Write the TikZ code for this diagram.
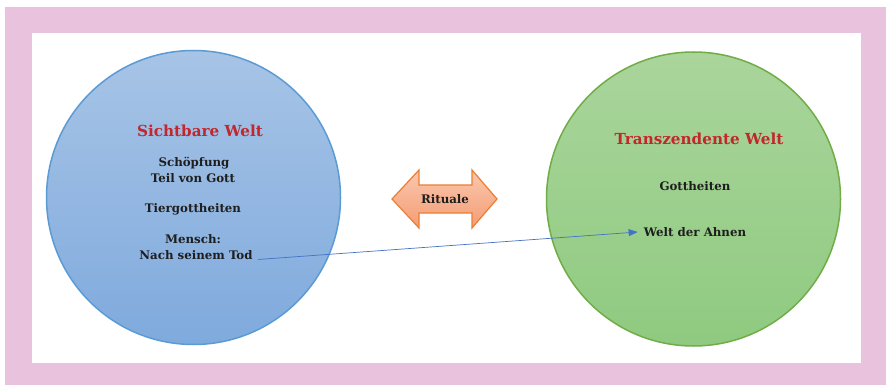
\documentclass[tikz,border=0pt]{standalone}
\usepackage{fontspec}
\setmainfont{DejaVu Serif}
\usetikzlibrary{arrows.meta}
\definecolor{frame}{HTML}{E9C3DD}
\definecolor{bluetop}{HTML}{A7C4E6}
\definecolor{bluebot}{HTML}{7FAADD}
\definecolor{blueline}{HTML}{5B9BD5}
\definecolor{greentop}{HTML}{AAD59C}
\definecolor{greenbot}{HTML}{8FCA80}
\definecolor{greenline}{HTML}{70AD47}
\definecolor{orangetop}{HTML}{FAC8AE}
\definecolor{orangebot}{HTML}{F49C74}
\definecolor{orangeline}{HTML}{ED7D31}
\definecolor{headred}{HTML}{C1272D}
\definecolor{bodytext}{HTML}{1E1E1E}
\definecolor{linkblue}{HTML}{4472C4}
\tikzset{
  heading/.style={font=\fontsize{15.2}{17}\selectfont\bfseries, text=headred, inner sep=0pt},
  item/.style={font=\fontsize{11.8}{14}\selectfont\bfseries, text=bodytext, inner sep=0pt, align=center},
  world/.style={circle, minimum size=294pt, inner sep=0pt, line width=1.5pt},
}
\begin{document}
\begin{tikzpicture}[x=1pt,y=-1pt]
  \useasboundingbox (0,0) rectangle (886,385);
  % outer pink frame with white inner panel
  \fill[white] (0,0) rectangle (886,385);
  \fill[frame] (5,7) rectangle (886,385);
  \fill[white] (32,33) rectangle (861,363);

  % the two worlds
  \node[world, draw=blueline, top color=bluetop, bottom color=bluebot] (left) at (193.5,197.5) {};
  \node[world, draw=greenline, top color=greentop, bottom color=greenbot] (right) at (693.5,199) {};

  % double arrow between the worlds
  \path[draw=orangeline, line width=1.2pt, top color=orangetop, bottom color=orangebot, line join=miter]
    (392,199) -- (419,170) -- (419,185) -- (472,185) -- (472,170) -- (497,199)
    -- (472,228) -- (472,213) -- (419,213) -- (419,228) -- cycle;
  \node[item] (rit) at (445,199) {Rituale};

  % left world texts
  \node[heading] (lh) at (200,131) {Sichtbare Welt};
  \node[item] (l1) at (194,163) {Schöpfung};
  \node[item] (l2) at (193,178) {Teil von Gott};
  \node[item] (l3) at (193,209) {Tiergottheiten};
  \node[item] (l4) at (193,239) {Mensch:};
  \node[item] (l5) at (196,255.5) {Nach seinem Tod};

  % right world texts
  \node[heading] (rh) at (699,139) {Transzendente Welt};
  \node[item] (r1) at (695,186) {Gottheiten};
  \node[item] (r2) at (695,232) {Welt der Ahnen};

  % link from the dead to the ancestors
  \draw[linkblue, line width=0.7pt, -{Triangle[length=9pt,width=7pt]}]
    ([xshift=5pt,yshift=-4pt]l5.east) -- ([xshift=-6pt]r2.west);
\end{tikzpicture}
\end{document}
